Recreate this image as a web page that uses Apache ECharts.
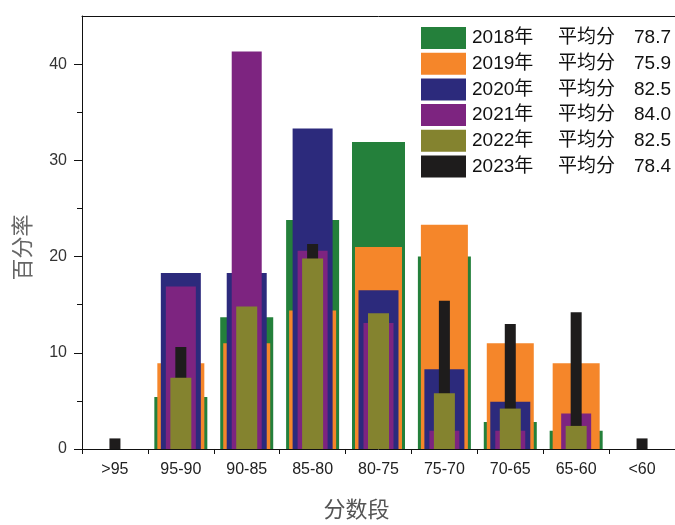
<!DOCTYPE html>
<html>
<head>
<meta charset="utf-8">
<script src="https://cdn.jsdelivr.net/npm/echarts@6/dist/echarts.min.js"></script>
<style>html,body{margin:0;padding:0;background:#fff}#c{width:675px;height:525px}</style>
</head>
<body>
<div id="c"></div>
<script>
const categories = ['>95','95-90','90-85','85-80','80-75','75-70','70-65','65-60','<60'];
const years = ['2018年','2019年','2020年','2021年','2022年','2023年'];
const averages = ['78.7','75.9','82.5','84.0','82.5','78.4'];
const s2018 = [0, 5.4, 13.7, 23.8, 31.9, 20.0, 2.8, 1.9, 0];
const s2019 = [0, 8.9, 11.0, 14.4, 21.0, 23.3, 11.0, 8.9, 0];
const s2020 = [0, 18.3, 18.3, 33.3, 16.5, 8.3, 4.9, 0, 0];
const s2021 = [0, 16.9, 41.3, 20.6, 13.1, 1.9, 1.9, 3.7, 0];
const s2022 = [0, 7.4, 14.8, 19.8, 14.1, 5.8, 4.2, 2.4, 0];
const s2023 = [1.1, 10.6, 12.0, 21.3, 11.0, 15.4, 13.0, 14.2, 1.1];
const yMajorTicks = [0, 10, 20, 30, 40];
const yMinorTicks = [5, 15, 25, 35];

const colors = ['#24803b', '#f5862a', '#2c2a7c', '#7d2480', '#84832f', '#1e1c1c'];
const widths = [53, 47, 40, 30, 21, 11];
const seriesData = [s2018, s2019, s2020, s2021, s2022, s2023];
// draw order: 2018, 2019, 2020, 2021, 2023, 2022 (olive drawn over black)
const drawOrder = [0, 1, 2, 3, 5, 4];

const FONT = '"Liberation Sans", Arial, "Noto Sans CJK SC", sans-serif';

const xAxes = [];
for (let i = 0; i < 6; i++) {
  const ax = { type: 'category', data: categories, position: 'bottom', gridIndex: 0 };
  if (i === 0) {
    Object.assign(ax, {
      axisLine: { lineStyle: { color: '#111', width: 1 } },
      axisTick: { alignWithLabel: true, length: 8, lineStyle: { color: '#111' } },
      axisLabel: { fontSize: 16, color: '#222', margin: 13, fontFamily: FONT },
      name: '分数段', nameLocation: 'middle', nameGap: 49,
      nameTextStyle: { fontSize: 22, color: '#555', fontFamily: '"Noto Sans CJK SC", sans-serif', padding: [0, 44, 0, 0] }
    });
  } else if (i === 1) {
    Object.assign(ax, {
      axisLine: { show: false },
      axisTick: { show: true, length: 5, lineStyle: { color: '#111' } },
      axisLabel: { show: false }
    });
  } else {
    ax.show = false;
  }
  xAxes.push(ax);
}
xAxes.push({
  type: 'category', data: categories, position: 'top',
  axisLine: { show: true, lineStyle: { color: '#111' } },
  axisTick: { show: false }, axisLabel: { show: false }
});

const series = drawOrder.map(i => ({
  name: years[i],
  type: 'bar',
  xAxisIndex: i,
  yAxisIndex: 0,
  barWidth: widths[i],
  data: seriesData[i],
  itemStyle: { color: colors[i] },
  animation: false
}));

const option = {
  animation: false,
  grid: { left: 82, right: -4, top: 16, bottom: 70, containLabel: false },
  legend: {
    orient: 'vertical', left: 421, top: 27, padding: 0,
    itemWidth: 45, itemHeight: 22, itemGap: 3.7,
    icon: 'rect',
    data: years,
    formatter: name => {
      const i = years.indexOf(name);
      return '{a|' + name + '}{b|平均分}{c|' + averages[i] + '}';
    },
    textStyle: {
      color: '#111', fontSize: 19, fontFamily: FONT, padding: [0, 0, 0, 1],
      rich: {
        a: { width: 86, fontSize: 19, color: '#111', fontFamily: FONT },
        b: { width: 76, fontSize: 19, color: '#111', fontFamily: FONT },
        c: { fontSize: 19, color: '#111', fontFamily: FONT }
      }
    }
  },
  xAxis: xAxes,
  yAxis: [{
    type: 'value', min: 0, max: 45,
    splitLine: { show: false },
    axisLine: { show: true, lineStyle: { color: '#111' } },
    axisTick: { show: true, length: 8, customValues: yMajorTicks, lineStyle: { color: '#111' } },
    axisLabel: { customValues: yMajorTicks, fontSize: 16, color: '#333', margin: 15, fontFamily: FONT },
    name: '百分率', nameLocation: 'middle', nameGap: 49,
    nameTextStyle: { fontSize: 22, color: '#666', fontFamily: '"Noto Sans CJK SC", sans-serif', padding: [0, 30, 0, 0] }
  }, {
    type: 'value', min: 0, max: 45, position: 'left',
    splitLine: { show: false },
    axisLine: { show: false },
    axisTick: { show: true, length: 5, customValues: yMinorTicks, lineStyle: { color: '#111' } },
    axisLabel: { show: false }
  }],
  series: series
};

const chart = echarts.init(document.getElementById('c'), null, { renderer: 'canvas' });
chart.setOption(option);
</script>
</body>
</html>
